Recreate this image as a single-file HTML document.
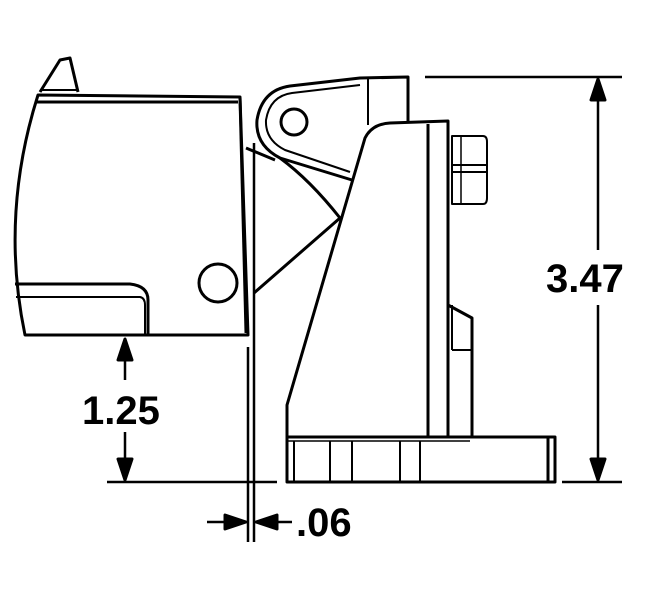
<!DOCTYPE html>
<html><head><style>body{margin:0;background:#fff}svg{display:block}</style></head>
<body>
<svg width="650" height="595" viewBox="0 0 650 595" xmlns="http://www.w3.org/2000/svg" fill="none" stroke="#000" stroke-width="3" stroke-linejoin="round">
<!-- left body -->
<path d="M38 95 Q0 215 25 335 L248 335 L240 97 Z"/>
<path d="M36 102 L238 102"/>
<path d="M240 97 L246 333"/>
<path d="M40 92 L60 60 L70 58 L78 92" fill="#fff"/>
<path d="M40 90 L78 90" stroke-width="2"/>
<path d="M15 284 L130 284 Q148 286 148 300 L148 335"/>
<path d="M16 297 L140 297 Q145 298 145 305 L145 335" stroke-width="2"/>
<circle cx="218" cy="283" r="19"/>
<!-- door lines -->
<path d="M254 143 L254 542" stroke-width="2.5"/>
<path d="M248 347 L248 542" stroke-width="2.5"/>
<!-- diagonals -->
<path d="M254 293 L340 218 Q310 180 280 158"/>
<path d="M246 148 L275 160"/>
<!-- hinge bracket -->
<path d="M352 180 L280 158 Q255 145 257 120 Q262 90 290 86 L360 78 L408 77 L408 122"/>
<path d="M350 172 L285 150 Q265 140 266 120 Q270 96 292 93 L360 85" stroke-width="2"/>
<circle cx="294" cy="122" r="13"/>
<path d="M368 78 L368 125" stroke-width="2"/>
<!-- main bracket -->
<path d="M287 437 L287 405 L365 138 Q372 124 390 123 L448 121 L448 437 Z" fill="#fff"/>
<path d="M428 124 L428 437"/>
<path d="M448 305 L472 318 L472 437" />
<path d="M452 350 L472 350 M452 305 L452 350" stroke-width="2"/>
<!-- bolt -->
<path d="M452 136 L483 136 Q487 136 487 142 L487 198 Q487 204 483 204 L452 204 Z" stroke-width="2"/>
<path d="M452 165 L487 165 M452 172 L487 172" stroke-width="2"/>
<path d="M461 136 L461 204" stroke-width="1.5"/>
<!-- base -->
<path d="M287 437 L548 437 L548 482 L287 482 Z" fill="#fff"/>
<path d="M548 437 L555 437 L555 482 L548 482"/>
<path d="M287 441 L470 441" stroke-width="1.5"/>
<path d="M294 441 L294 482 M330 441 L330 482 M352 441 L352 482 M400 441 L400 482 M420 441 L420 482" stroke-width="2"/>
<!-- dimensions -->
<path d="M425 77 L622 77 M562 482 L622 482 M107 482 L277 482" stroke-width="2.5"/>
<path d="M598 95 L598 250 M598 305 L598 465" stroke-width="2.5"/>
<path d="M598 79 L591 100 L605 100 Z M598 480 L591 459 L605 459 Z" fill="#000"/>
<path d="M125 355 L125 380 M125 432 L125 462" stroke-width="2.5"/>
<path d="M125 339 L118 360 L132 360 Z M125 480 L118 459 L132 459 Z" fill="#000"/>
<path d="M207 522 L232 522 M262 522 L292 522" stroke-width="2.5"/>
<path d="M246 522 L225 515 L225 529 Z M256 522 L277 515 L277 529 Z" fill="#000"/>
<g fill="#000" stroke="none" font-family="Liberation Sans, sans-serif" font-weight="bold" font-size="40">
<text x="546" y="292">3.47</text>
<text x="82" y="424">1.25</text>
<text x="296" y="536">.06</text>
</g>
</svg>
</body></html>
